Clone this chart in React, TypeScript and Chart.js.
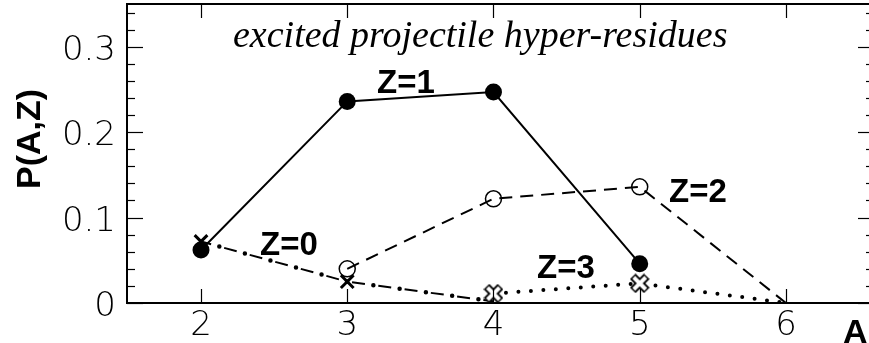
import React, { useEffect, useRef } from "react";
import { Chart, registerables } from "chart.js";

Chart.register(...registerables);

// ---- data ----
const A_Z0 = [2, 3, 4];
const P_Z0 = [0.072, 0.025, 0.002];
const A_Z1 = [2, 3, 4, 5];
const P_Z1 = [0.062, 0.236, 0.247, 0.046];
const A_Z2 = [3, 4, 5, 6];
const P_Z2 = [0.04, 0.122, 0.136, 0.0];
const A_Z3 = [4, 5, 6];
const P_Z3 = [0.011, 0.023, 0.0];

const X_TICKS = [2, 3, 4, 5, 6];
const Y_TICKS = [0, 0.1, 0.2, 0.3];
const Y_TICK_LABELS = ["0", "0.1", "0.2", "0.3"];
const Y_MINOR_STEP = 0.02;
const X_MIN = 1.494;
const X_MAX = 6.602;
const Y_MIN = 0;
const Y_MAX = 0.35;

const TITLE = "excited projectile hyper-residues";
const X_TITLE = "A";
const Y_TITLE = "P(A,Z)";
const SERIES_LABELS = ["Z=0", "Z=1", "Z=2", "Z=3"];

const pts = (xs: number[], ys: number[]) => xs.map((x, i) => ({ x, y: ys[i] }));

function makeHollowX(): HTMLCanvasElement {
  const c = document.createElement("canvas");
  c.width = 20;
  c.height = 20;
  const g = c.getContext("2d")!;
  g.lineCap = "butt";
  g.beginPath();
  g.moveTo(3, 3);
  g.lineTo(17, 17);
  g.moveTo(17, 3);
  g.lineTo(3, 17);
  g.strokeStyle = "#000";
  g.lineWidth = 8;
  g.stroke();
  g.strokeStyle = "#fff";
  g.lineWidth = 4;
  g.beginPath();
  g.moveTo(4, 4);
  g.lineTo(16, 16);
  g.moveTo(16, 4);
  g.lineTo(4, 16);
  g.stroke();
  return c;
}

const decorPlugin = {
  id: "decor",
  afterDatasetsDraw(chart: any) {
    const { ctx, chartArea: a, scales } = chart;
    const xs = scales.x;
    const ys = scales.y;
    ctx.save();
    ctx.strokeStyle = "#000";
    ctx.lineWidth = 1.2;
    const line = (x1: number, y1: number, x2: number, y2: number) => {
      ctx.beginPath();
      ctx.moveTo(x1, y1);
      ctx.lineTo(x2, y2);
      ctx.stroke();
    };
    X_TICKS.forEach((v) => {
      const px = Math.round(xs.getPixelForValue(v)) + 0.5;
      line(px, a.bottom, px, a.bottom - 14);
      line(px, a.top, px, a.top + 14);
    });
    const n = Math.floor((Y_MAX - Y_MIN) / Y_MINOR_STEP + 1e-6);
    for (let i = 0; i <= n; i++) {
      const v = Y_MIN + i * Y_MINOR_STEP;
      const major = Math.abs(v * 10 - Math.round(v * 10)) < 1e-6;
      const len = major ? 16 : 8;
      const py = Math.round(ys.getPixelForValue(v)) + 0.5;
      line(a.left, py, a.left + len, py);
      line(a.right, py, a.right - len, py);
    }
    ctx.lineWidth = 2;
    ctx.strokeRect(a.left, a.top, a.right - a.left, a.bottom - a.top);
    ctx.restore();
  },
  afterDraw(chart: any) {
    const { ctx, chartArea: a, scales } = chart;
    const xs = scales.x;
    const ys = scales.y;
    ctx.save();
    ctx.fillStyle = "#000";
    ctx.textBaseline = "alphabetic";
    // tick labels
    ctx.font = "200 34px 'DejaVu Sans'";
    ctx.textAlign = "right";
    Y_TICKS.forEach((v, i) => {
      ctx.fillText(Y_TICK_LABELS[i], 116, ys.getPixelForValue(v) + 13);
    });
    ctx.textAlign = "center";
    X_TICKS.forEach((v) => {
      ctx.fillText(String(v), xs.getPixelForValue(v), a.bottom + 32);
    });
    // axis titles
    ctx.font = "bold 34px 'Liberation Sans'";
    ctx.textAlign = "left";
    ctx.fillText(X_TITLE, 843, 343);
    ctx.save();
    ctx.translate(40, 139);
    ctx.rotate(-Math.PI / 2);
    ctx.textAlign = "center";
    ctx.fillText(Y_TITLE, 0, 0);
    ctx.restore();
    // title
    ctx.font = "italic 38px 'Liberation Serif'";
    ctx.textAlign = "left";
    ctx.fillText(TITLE, 233, 47);
    // series labels
    ctx.font = "bold 33px 'Liberation Sans'";
    const pos: [number, number][] = [
      [260, 255],
      [377, 93],
      [669, 202],
      [537, 278],
    ];
    SERIES_LABELS.forEach((t, i) => ctx.fillText(t, pos[i][0], pos[i][1]));
    ctx.restore();
  },
};

export default function App() {
  const ref = useRef<HTMLCanvasElement | null>(null);
  useEffect(() => {
    document.body.style.margin = "0";
    document.body.style.overflow = "hidden";
    const hollowX = makeHollowX();
    const chart = new Chart(ref.current!, {
      type: "line",
      data: {
        datasets: [
          {
            // Z=3 dotted
            data: pts(A_Z3, P_Z3),
            borderColor: "#000",
            borderWidth: 4,
            borderDash: [0, 12.5],
            borderCapStyle: "round",
            pointStyle: [hollowX, hollowX, false] as any,
            pointRadius: [9, 9, 0],
            order: 1,
          } as any,
          {
            // Z=0 dash layer + markers
            data: pts(A_Z0, P_Z0),
            borderColor: "#000",
            borderWidth: 2,
            borderDash: [13, 13.5],
            borderDashOffset: 2.5,
            pointStyle: "crossRot",
            pointRadius: [9, 9, 0],
            pointBorderWidth: 3,
            pointBorderColor: "#000",
            order: 2,
          } as any,
          {
            // Z=0 dot layer
            data: pts(A_Z0, P_Z0),
            borderColor: "#000",
            borderWidth: 4.5,
            borderDash: [0, 26.5],
            borderDashOffset: 7.5,
            borderCapStyle: "round",
            pointRadius: 0,
            order: 3,
          } as any,
          {
            // Z=2 dashed
            data: pts(A_Z2, P_Z2),
            borderColor: "#000",
            borderWidth: 2,
            borderDash: [13, 8],
            pointStyle: "circle",
            pointRadius: [8, 8, 8, 0],
            pointBorderWidth: 1.5,
            pointBorderColor: "#000",
            pointBackgroundColor: "rgba(0,0,0,0)",
            order: 4,
          } as any,
          {
            // Z=1 solid
            data: pts(A_Z1, P_Z1),
            borderColor: "#000",
            borderWidth: 2,
            pointStyle: "circle",
            pointRadius: 8.5,
            pointBorderWidth: 0,
            pointBackgroundColor: "#000",
            order: 5,
          } as any,
        ],
      },
      options: {
        animation: false,
        responsive: false,
        events: [],
        layout: { autoPadding: false, padding: { left: 127, top: 4, right: 6, bottom: 40 } },
        plugins: { legend: { display: false }, tooltip: { enabled: false } },
        scales: {
          x: { type: "linear", min: X_MIN, max: X_MAX, display: false },
          y: { type: "linear", min: Y_MIN, max: Y_MAX, display: false },
        },
        elements: { line: { tension: 0 } },
      },
      plugins: [decorPlugin],
    });
    return () => chart.destroy();
  }, []);
  return (
    <div style={{ width: 869, height: 343, overflow: "hidden", background: "#fff" }}>
      <canvas ref={ref} width={880} height={343} style={{ display: "block" }} />
    </div>
  );
}
